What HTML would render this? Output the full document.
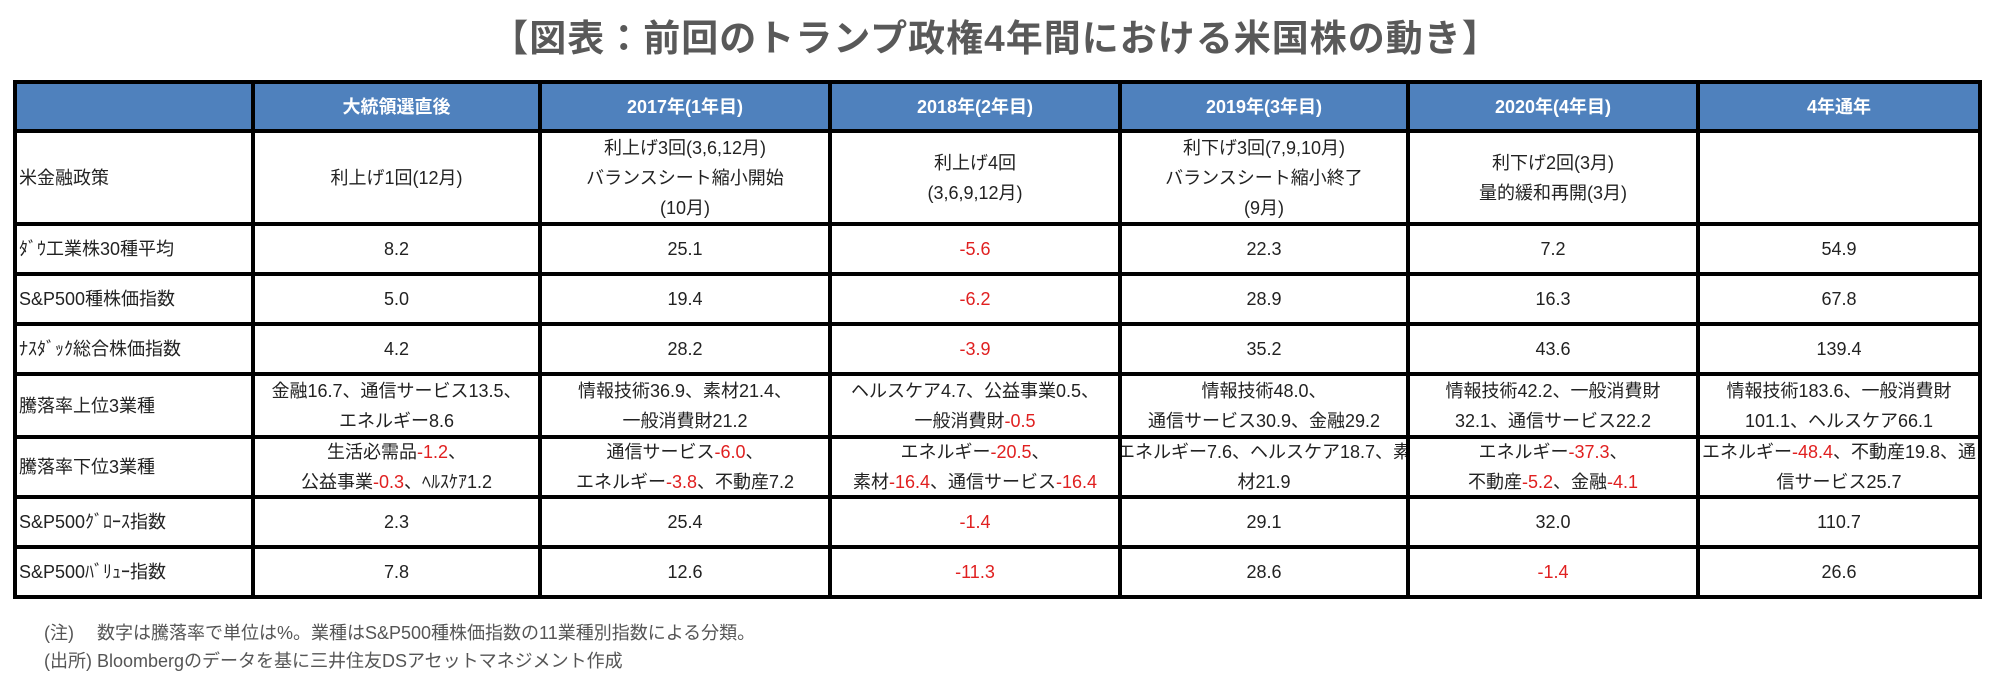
<!DOCTYPE html>
<html><head><meta charset="utf-8">
<style>
html,body{margin:0;padding:0;background:#fff;}
body{width:1991px;height:689px;position:relative;overflow:hidden;font-family:"Liberation Sans","Noto Sans CJK JP",sans-serif;}
#title{position:absolute;left:0;width:1991px;top:8px;text-align:center;font-size:37px;font-weight:bold;color:#595959;letter-spacing:1px;}
.cell{position:absolute;display:flex;flex-direction:column;justify-content:center;align-items:center;text-align:center;font-size:18px;color:#222;line-height:30px;white-space:nowrap;}
.cell.lab{align-items:flex-start;padding-left:4px;box-sizing:border-box;}
.hdr{background:#4F81BD;color:#fff;font-weight:bold;font-size:18px;}
.line{position:absolute;background:#000;}
.r{color:#e02020;}
.note{position:absolute;left:44px;font-size:18px;color:#555;white-space:nowrap;}
</style></head><body>
<div id="title">【図表：前回のトランプ政権4年間における米国株の動き】</div>
<div id="table"></div>
<div class="note" style="top:619px">(注)　 数字は騰落率で単位は%。業種はS&amp;P500種株価指数の11業種別指数による分類。</div>
<div class="note" style="top:647px">(出所)  Bloombergのデータを基に三井住友DSアセットマネジメント作成</div>
<script>
const headers=["","大統領選直後","2017年(1年目)","2018年(2年目)","2019年(3年目)","2020年(4年目)","4年通年"];
const rowLabels=["米金融政策","ﾀﾞｳ工業株30種平均","S&P500種株価指数","ﾅｽﾀﾞｯｸ総合株価指数","騰落率上位3業種","騰落率下位3業種","S&P500ｸﾞﾛｰｽ指数","S&P500ﾊﾞﾘｭｰ指数"];
const policy=[["利上げ1回(12月)"],["利上げ3回(3,6,12月)","バランスシート縮小開始","(10月)"],["利上げ4回","(3,6,9,12月)"],["利下げ3回(7,9,10月)","バランスシート縮小終了","(9月)"],["利下げ2回(3月)","量的緩和再開(3月)"],[""]];
const dow=[8.2,25.1,-5.6,22.3,7.2,54.9];
const sp500=[5.0,19.4,-6.2,28.9,16.3,67.8];
const nasdaq=[4.2,28.2,-3.9,35.2,43.6,139.4];
const growth=[2.3,25.4,-1.4,29.1,32.0,110.7];
const value=[7.8,12.6,-11.3,28.6,-1.4,26.6];
const topSectors=[["金融16.7、通信サービス13.5、","エネルギー8.6"],["情報技術36.9、素材21.4、","一般消費財21.2"],["ヘルスケア4.7、公益事業0.5、","一般消費財-0.5"],["情報技術48.0、","通信サービス30.9、金融29.2"],["情報技術42.2、一般消費財","32.1、通信サービス22.2"],["情報技術183.6、一般消費財","101.1、ヘルスケア66.1"]];
const bottomSectors=[["生活必需品-1.2、","公益事業-0.3、ﾍﾙｽｹｱ1.2"],["通信サービス-6.0、","エネルギー-3.8、不動産7.2"],["エネルギー-20.5、","素材-16.4、通信サービス-16.4"],["エネルギー7.6、ヘルスケア18.7、素","材21.9"],["エネルギー-37.3、","不動産-5.2、金融-4.1"],["エネルギー-48.4、不動産19.8、通","信サービス25.7"]];

const xs=[15,253,540,830,1120,1408,1698,1980];
const ys=[82,131,224,274,324,374,437,497,547,597];
const T=document.getElementById('table');
function fmt(v){return v.toFixed(1);}
function colorize(s){return s.replace(/(-\d+(\.\d+)?)/g,'<span class="r">$1</span>');}
function lines(arr){return arr.map(s=>'<div>'+s+'</div>').join('');}
function mkCell(ci,ri,html,cls,name){
  const d=document.createElement('div');
  d.className='cell '+cls;
  d.style.left=xs[ci]+'px';d.style.top=ys[ri]+'px';
  d.style.width=(xs[ci+1]-xs[ci])+'px';d.style.height=(ys[ri+1]-ys[ri])+'px';
  d.innerHTML=html;
  
  
  T.appendChild(d);
}
headers.forEach((h,i)=>mkCell(i,0,'<div>'+h+'</div>','hdr','header-'+i));
rowLabels.forEach((l,r)=>mkCell(0,r+1,'<div>'+l.replace(/&/g,'&amp;')+'</div>','lab','row-label-'+(r+1)));
const numRows={2:dow,3:sp500,4:nasdaq,7:growth,8:value};
for(let c=0;c<6;c++){
  mkCell(c+1,1,lines(policy[c]),'','policy-'+c);
  for(const r in numRows){
    const v=numRows[r][c];
    mkCell(c+1,+r,'<div>'+(v<0?'<span class="r">'+fmt(v)+'</span>':fmt(v))+'</div>','','value-r'+r+'-c'+c);
  }
  mkCell(c+1,5,lines(topSectors[c].map(colorize)),'','top-sectors-'+c);
  mkCell(c+1,6,lines(bottomSectors[c].map(colorize)),'','bottom-sectors-'+c);
}
xs.forEach((x,i)=>{
  const l=document.createElement('div');l.className='line';
  l.style.left=(x-2)+'px';l.style.top=(ys[0]-2)+'px';l.style.width='4px';l.style.height=(ys[ys.length-1]-ys[0]+4)+'px';
  
  
  T.appendChild(l);
});
ys.forEach((y,i)=>{
  const l=document.createElement('div');l.className='line';
  l.style.left=(xs[0]-2)+'px';l.style.top=(y-2)+'px';l.style.height='4px';l.style.width=(xs[xs.length-1]-xs[0]+4)+'px';
  
  
  T.appendChild(l);
});
</script>
</body></html>
